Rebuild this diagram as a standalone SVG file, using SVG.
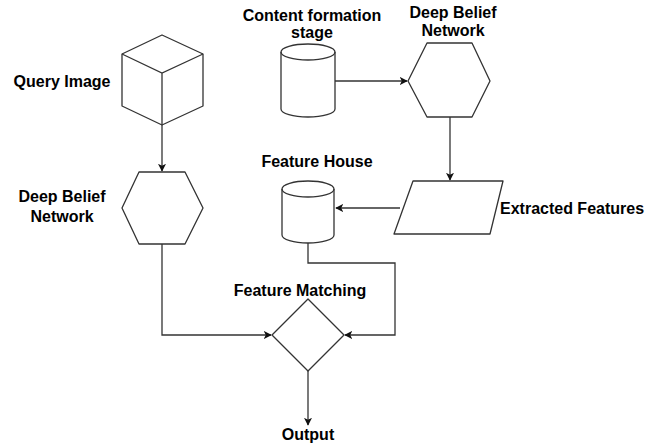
<svg xmlns="http://www.w3.org/2000/svg" width="646" height="444" viewBox="0 0 646 444">
<style>
.s{fill:#fff;stroke:#333;stroke-width:1.3;stroke-linejoin:round}
.c{fill:none;stroke:#333;stroke-width:1.3}
.t{font-family:"Liberation Sans",Arial,sans-serif;font-weight:bold;font-size:16px;fill:#000}
.m{text-anchor:middle}
</style>
<defs>
<marker id="a" viewBox="0 0 10 10" refX="9" refY="5" markerWidth="8" markerHeight="8" markerUnits="userSpaceOnUse" orient="auto">
<path d="M0,0 L10,5 L0,10 L2.5,5 Z" fill="#111"/>
</marker>
</defs>
<rect width="646" height="444" fill="#fff"/>
<g id="connectors">
<path class="c" d="M162,125 V171" marker-end="url(#a)"/>
<path class="c" d="M335,81 H407" marker-end="url(#a)"/>
<path class="c" d="M450,117 V180" marker-end="url(#a)"/>
<path class="c" d="M400,208 H336" marker-end="url(#a)"/>
<path class="c" d="M162,244 V335 H271" marker-end="url(#a)"/>
<path class="c" d="M308,243 V263 H395 V335 H345" marker-end="url(#a)"/>
<path class="c" d="M308,371 V425" marker-end="url(#a)"/>
</g>
<g id="query-image">
<path class="s" d="M162,35 L203,54 L203,106 L162,125 L122,106 L122,54 Z"/>
<path class="c" d="M122,54 L162,73 L203,54 M162,73 V125"/>
<text class="t m" x="62" y="87">Query Image</text>
</g>
<g id="dbn-left">
<path class="s" d="M139,172 H185 L203,208 L185,244 H139 L122,208 Z"/>
<text class="t m" x="62" y="202">Deep Belief</text>
<text class="t m" x="62" y="222">Network</text>
</g>
<g id="content-formation">
<path class="s" d="M281,52 A27,8 0 0 1 335,52 V109 A27,8 0 0 1 281,109 Z"/>
<path class="c" d="M281,52 A27,8 0 0 0 335,52"/>
<text class="t m" x="312" y="21">Content formation</text>
<text class="t m" x="312" y="38">stage</text>
</g>
<g id="dbn-top">
<path class="s" d="M427,43 H472 L490,81 L472,117 H427 L408,81 Z"/>
<text class="t m" x="453" y="18">Deep Belief</text>
<text class="t m" x="453" y="36">Network</text>
</g>
<g id="extracted-features">
<path class="s" d="M413,181 H503 L490,234 H394 Z"/>
<text class="t" x="500" y="214">Extracted Features</text>
</g>
<g id="feature-house">
<path class="s" d="M282,189 A26,8 0 0 1 334,189 V235 A26,8 0 0 1 282,235 Z"/>
<path class="c" d="M282,189 A26,8 0 0 0 334,189"/>
<text class="t m" x="317" y="167">Feature House</text>
</g>
<g id="feature-matching">
<path class="s" d="M308,299 L344,335 L308,371 L272,335 Z"/>
<text class="t m" x="300" y="296">Feature Matching</text>
</g>
<g id="output">
<text class="t m" x="308" y="440">Output</text>
</g>
</svg>
